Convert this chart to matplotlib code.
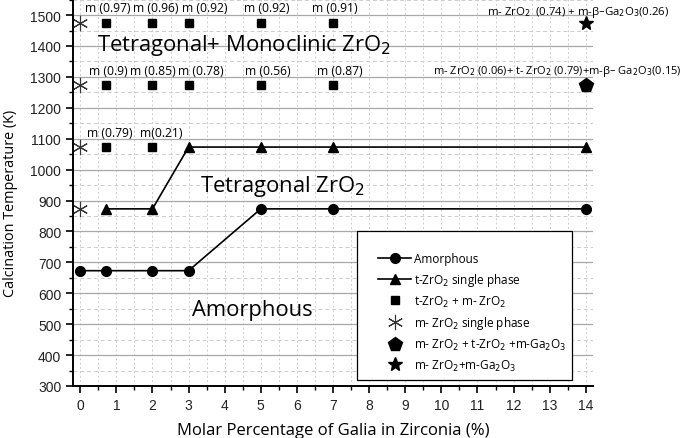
import matplotlib
matplotlib.use("Agg")
import matplotlib.pyplot as plt
from matplotlib.ticker import MultipleLocator
from matplotlib.patches import Rectangle

# --- data ---------------------------------------------------------------
amorph_x = [0, 0.7, 2, 3, 5, 7, 14]
amorph_T = [673, 673, 673, 673, 873, 873, 873]

tet_x = [0.7, 2, 3, 5, 7, 14]
tet_T = [873, 873, 1073, 1073, 1073, 1073]

mix_x = [0.7, 2, 0.7, 2, 3, 5, 7, 0.7, 2, 3, 5, 7]
mix_T = [1073, 1073, 1273, 1273, 1273, 1273, 1273, 1473, 1473, 1473, 1473, 1473]

mono_x = [0, 0, 0, 0]
mono_T = [873, 1073, 1273, 1473]

pent_x, pent_T = [14], [1273]
star_x, star_T = [14], [1473]

# monoclinic fraction labels (x centre, T, text)
frac_x = [0.75, 2.08, 3.44, 5.17, 7.06,
          0.77, 2.0, 3.35, 5.2, 7.2,
          0.83, 2.24]
frac_T = [1526, 1526, 1526, 1526, 1526,
          1321, 1321, 1321, 1321, 1321,
          1121, 1121]
frac_txt = ["m (0.97)", "m (0.96)", "m (0.92)", "m (0.92)", "m (0.91)",
            "m (0.9)", "m (0.85)", "m (0.78)", "m (0.56)", "m (0.87)",
            "m (0.79)", "m(0.21)"]

font = ["Open Sans", "DejaVu Sans"]

fig = plt.figure(figsize=(6.85, 4.39), dpi=100)
ax = fig.add_axes([0.1066, 0.1185, 0.7591, 0.8815])

ax.plot(amorph_x, amorph_T, color="black", lw=1.2, marker="o", ms=7,
        label="Amorphous", zorder=4)
ax.plot(tet_x, tet_T, color="black", lw=1.2, marker="^", ms=7.5,
        label="t-ZrO$_2$ single phase", zorder=4)
ax.plot(mix_x, mix_T, ls="none", color="black", marker="s", ms=5.5,
        label="t-ZrO$_2$ + m- ZrO$_2$", zorder=4)
ax.plot(mono_x, mono_T, ls="none", color="#333333", marker=(6, 2, 0), ms=11,
        mew=0.8, label="m- ZrO$_2$ single phase", zorder=4, clip_on=False)
ax.plot(pent_x, pent_T, ls="none", color="black", marker="p", ms=10,
        label="m- ZrO$_2$ + t-ZrO$_2$ +m-Ga$_2$O$_3$", zorder=4, clip_on=False)
ax.plot(star_x, star_T, ls="none", color="black", marker="*", ms=10,
        label="m- ZrO$_2$+m-Ga$_2$O$_3$", zorder=4, clip_on=False)

for x, t, s in zip(frac_x, frac_T, frac_txt):
    ax.text(x, t, s, ha="center", va="center", fontsize=8.7, family=font)

ax.text(13.8, 1513, "m- ZrO$_2$  (0.74) + m-\u03b2\u2013Ga$_2$O$_3$(0.26)",
        ha="center", va="center", fontsize=8.2, family=font, clip_on=False)
ax.text(13.22, 1321,
        "m- ZrO$_2$ (0.06)+ t- ZrO$_2$ (0.79)+m-\u03b2\u2013 Ga$_2$O$_3$(0.15)",
        ha="center", va="center", fontsize=8.0, family=font, clip_on=False)

# region labels
ax.text(0.47, 1406, "Tetragonal+ Monoclinic ZrO$_2$", ha="left", va="center",
        fontsize=15.8, family=font)
ax.text(3.32, 947, "Tetragonal ZrO$_2$", ha="left", va="center",
        fontsize=15.8, family=font)
ax.text(3.1, 549, "Amorphous", ha="left", va="center",
        fontsize=15.8, family=font)

ax.set_xlim(-0.2, 14.2)
ax.set_ylim(300, 1552)
ax.xaxis.set_major_locator(MultipleLocator(1))
ax.xaxis.set_minor_locator(MultipleLocator(0.5))
ax.yaxis.set_minor_locator(MultipleLocator(50))
ax.set_yticks(range(300, 1501, 100))

ax.grid(True, which="major", axis="y", color="#a8a8a8", lw=0.9, ls="-")
ax.grid(True, which="minor", axis="y", color="#cccccc", lw=0.7, ls=(0, (4, 3)))
ax.grid(True, which="both", axis="x", color="#cccccc", lw=0.7, ls=(0, (2, 2.5)))
ax.set_axisbelow(True)

for side in ("top", "right"):
    ax.spines[side].set_visible(False)
for side in ("left", "bottom"):
    ax.spines[side].set_linewidth(1.4)

ax.tick_params(which="major", direction="out", length=5, width=1.2,
               labelsize=10)
ax.tick_params(which="minor", direction="out", length=3, width=1.0)
for lab in ax.get_xticklabels() + ax.get_yticklabels():
    lab.set_family(["Liberation Sans", "DejaVu Sans"])
    lab.set_color("#222222")

ax.set_xlabel("Molar Percentage of Galia in Zirconia (%)", fontsize=12,
              family=font, labelpad=7)
ax.set_ylabel("Calcination Temperature (K)", fontsize=10.4, family=font)
ax.yaxis.set_label_coords(-0.106, 0.475)

# legend: frame drawn separately so the entries can sit where they do
ax.add_patch(Rectangle((0.546, 0.0155), 0.414, 0.3845, transform=ax.transAxes,
                       facecolor="white", edgecolor="black", lw=0.9, zorder=5))
leg = ax.legend(loc="upper left", bbox_to_anchor=(0.5865, 0.346),
                frameon=False, prop={"family": font, "size": 8.5},
                labelspacing=0.48, handlelength=2.8, handletextpad=0.25,
                borderpad=0, borderaxespad=0)
leg.set_zorder(6)

fig.savefig("out.png", dpi=100)
